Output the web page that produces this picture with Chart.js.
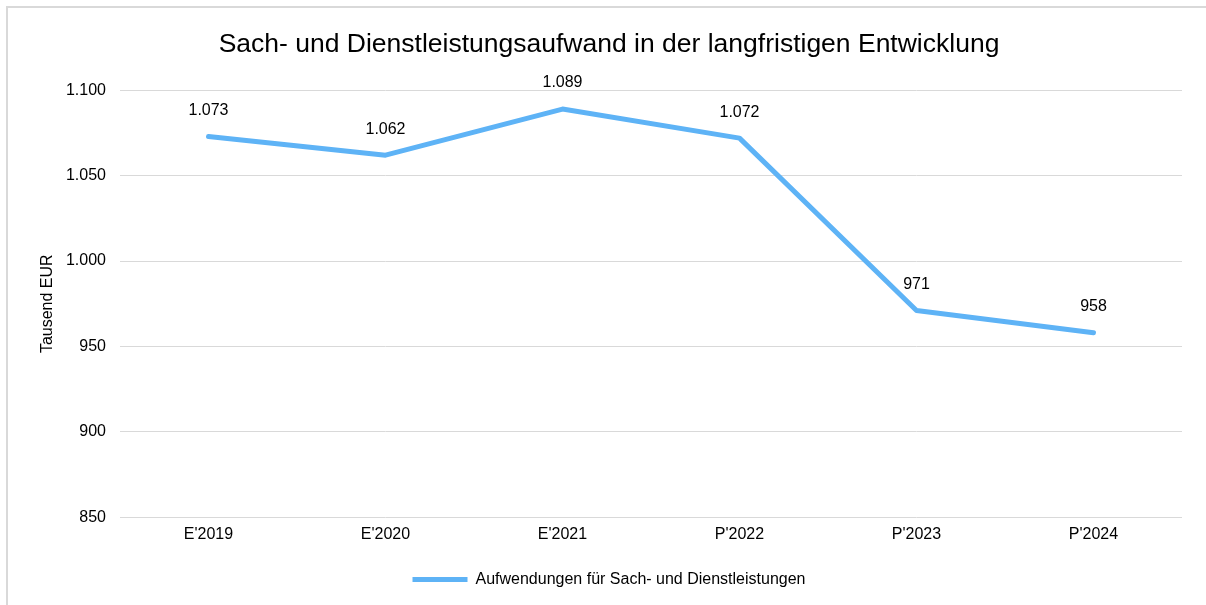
<!DOCTYPE html>
<html>
<head>
<meta charset="utf-8">
<script src="https://cdn.jsdelivr.net/npm/chart.js@4"></script>
<style>
  html, body { margin: 0; padding: 0; background: #fff; }
  #wrap { position: relative; width: 1206px; height: 605px; }
</style>
</head>
<body>
<div id="wrap"><canvas id="myChart" width="1206" height="605"></canvas></div>
<script>
// Daten
const jahre = ["E'2019", "E'2020", "E'2021", "P'2022", "P'2023", "P'2024"]
const aufwand = [1073, 1062, 1089, 1072, 971, 958]
const yTicks = [850, 900, 950, 1000, 1050, 1100]

const titel = 'Sach- und Dienstleistungsaufwand in der langfristigen Entwicklung'
const serienName = 'Aufwendungen für Sach- und Dienstleistungen'
const achsenTitel = 'Tausend EUR'

const blau = '#5eb3f6'
const grau = '#d9d9d9'
const schrift = "'Liberation Sans', Arial, sans-serif"

// deutsches Zahlenformat 1.073
function fmt(v) {
  return v.toLocaleString('de-DE')
}

// Rahmen links/oben
const rahmen = {
  id: 'rahmen',
  beforeDraw(chart) {
    const ctx = chart.ctx
    ctx.save()
    ctx.strokeStyle = grau
    ctx.lineWidth = 2
    ctx.strokeRect(7, 7, 1300, 700)
    ctx.restore()
  }
}

// Datenbeschriftungen über den Punkten
const werte = {
  id: 'werte',
  afterDatasetsDraw(chart) {
    const ctx = chart.ctx
    const meta = chart.getDatasetMeta(0)
    ctx.save()
    ctx.font = '16px ' + schrift
    ctx.fillStyle = '#000'
    ctx.textAlign = 'center'
    ctx.textBaseline = 'middle'
    meta.data.forEach((pt, i) => {
      ctx.fillText(fmt(aufwand[i]), pt.x, pt.y - 26)
    })
    ctx.restore()
  }
}

const lineCanvas = document.getElementById('myChart')

new Chart(lineCanvas, {
  type: 'line',
  data: {
    labels: jahre,
    datasets: [{
      label: serienName,
      data: aufwand,
      borderColor: blau,
      backgroundColor: blau,
      borderWidth: 5,
      borderCapStyle: 'round',
      borderJoinStyle: 'round',
      pointRadius: 0,
      tension: 0
    }]
  },
  options: {
    responsive: false,
    animation: false,
    layout: { padding: { left: 36, right: 24, top: 0, bottom: 7.4 } },
    plugins: {
      tooltip: { enabled: false },
      title: {
        display: true,
        text: titel,
        color: '#000',
        font: { family: schrift, size: 26.5, weight: 'normal' },
        padding: { top: 29, bottom: 29.5 }
      },
      legend: {
        position: 'bottom',
        labels: {
          color: '#000',
          font: { family: schrift, size: 16 },
          boxWidth: 55,
          boxHeight: 5,
          padding: 10,
          generateLabels: (chart) => [{
            text: serienName,
            fillStyle: blau,
            strokeStyle: blau,
            lineWidth: 0,
            datasetIndex: 0
          }]
        }
      }
    },
    scales: {
      x: {
        offset: true,
        grid: { display: false, drawTicks: false },
        border: { display: false },
        ticks: { color: '#000', font: { family: schrift, size: 16 }, padding: 8, maxRotation: 0 },
        afterFit(scale) { scale.height = 44.4 }
      },
      y: {
        min: 850,
        max: 1100,
        afterBuildTicks(scale) { scale.ticks = yTicks.map(v => ({ value: v })) },
        grid: { color: grau, lineWidth: 1, drawTicks: false },
        border: { display: false },
        ticks: {
          color: '#000',
          font: { family: schrift, size: 16 },
          padding: 14,
          callback: (v) => fmt(v)
        },
        title: {
          display: true,
          text: achsenTitel,
          color: '#000',
          font: { family: schrift, size: 16 },
          padding: { top: 1.5, bottom: 0 }
        },
        afterFit(scale) { scale.width = 84 }
      }
    }
  },
  plugins: [rahmen, werte]
})
</script>
</body>
</html>
